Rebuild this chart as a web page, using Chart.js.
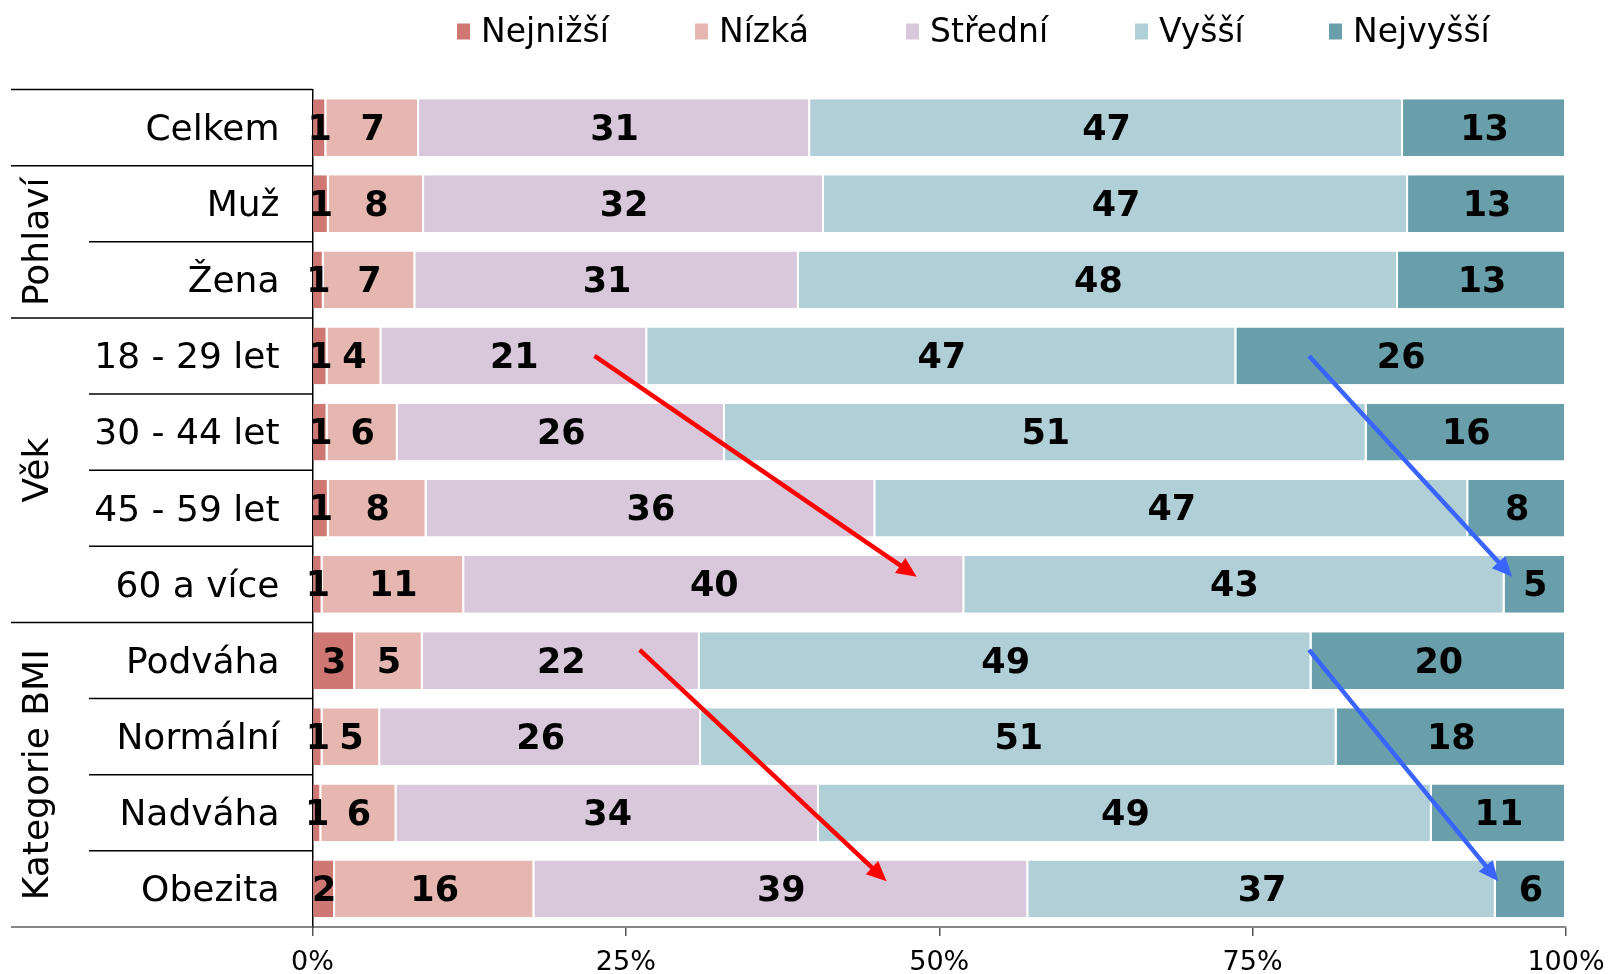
<!DOCTYPE html>
<html>
<head>
<meta charset="utf-8">
<script src="https://cdn.jsdelivr.net/npm/chart.js@4/dist/chart.umd.min.js"></script>
<style>
  html, body { margin: 0; padding: 0; background: #fff; }
  #wrap { width: 1608px; height: 974px; }
</style>
</head>
<body>
<div id="wrap"><canvas id="graf" width="1608" height="974"></canvas></div>
<script>
const kategorie = ["Celkem", "Muž", "Žena", "18 - 29 let", "30 - 44 let", "45 - 59 let", "60 a více", "Podváha", "Normální", "Nadváha", "Obezita"];
const nejnizsi = [1.1, 1.3, 0.9, 1.2, 1.2, 1.3, 0.8, 3.4, 0.8, 0.7, 1.8];
const nizka    = [7.4, 7.6, 7.3, 4.3, 5.6, 7.8, 11.3, 5.4, 4.6, 6.0, 15.9];
const stredni  = [31.2, 31.9, 30.6, 21.2, 26.1, 35.8, 39.9, 22.1, 25.6, 33.7, 39.4];
const vyssi    = [47.3, 46.6, 47.8, 47.0, 51.2, 47.3, 43.1, 48.8, 50.7, 48.9, 37.3];
const nejvyssi = [13.0, 12.6, 13.4, 26.3, 15.9, 7.8, 4.9, 20.3, 18.3, 10.7, 5.6];
const xTicks = [0, 25, 50, 75, 100];

const skupiny = ["Pohlaví", "Věk", "Kategorie BMI"];
const skupinyOd = [1, 3, 7];
const skupinyDo = [2, 6, 10];

// sipky v jednotkach grafu: [x1 %, y1 radek, x2 %, y2 radek]
const sipkyCervene = [[22.5, 3, 48.2, 5.9], [26.1, 6.86, 45.8, 9.9]];
const sipkyModre = [[79.5, 3, 95.7, 5.9], [79.5, 6.86, 94.6, 9.9]];

Chart.defaults.font.family = "'DejaVu Sans', Verdana, sans-serif";
Chart.defaults.color = '#000';

function sipka(ctx, x1, y1, x2, y2, barva) {
    const uhel = Math.atan2(y2 - y1, x2 - x1);
    const delka = 20, sirka = 9;
    ctx.save();
    ctx.strokeStyle = barva;
    ctx.fillStyle = barva;
    ctx.lineWidth = 4.5;
    ctx.beginPath();
    ctx.moveTo(x1, y1);
    ctx.lineTo(x2 - Math.cos(uhel) * delka * 0.8, y2 - Math.sin(uhel) * delka * 0.8);
    ctx.stroke();
    ctx.beginPath();
    ctx.moveTo(x2, y2);
    ctx.lineTo(x2 - Math.cos(uhel) * delka - Math.sin(uhel) * sirka, y2 - Math.sin(uhel) * delka + Math.cos(uhel) * sirka);
    ctx.lineTo(x2 - Math.cos(uhel) * delka + Math.sin(uhel) * sirka, y2 - Math.sin(uhel) * delka - Math.cos(uhel) * sirka);
    ctx.closePath();
    ctx.fill();
    ctx.restore();
}

const popisky = {
    id: 'popisky',
    afterDatasetsDraw(chart) {
        const ctx = chart.ctx;
        ctx.save();
        ctx.font = 'bold 35px "DejaVu Sans"';
        ctx.fillStyle = '#000';
        ctx.textAlign = 'center';
        ctx.textBaseline = 'middle';
        chart.data.datasets.forEach((ds, i) => {
            chart.getDatasetMeta(i).data.forEach((bar, j) => {
                const p = bar.getCenterPoint();
                ctx.fillText(Math.round(ds.data[j]), p.x, p.y + 3);
            });
        });
        ctx.restore();

        const sx = chart.scales.x, sy = chart.scales.y;
        sipkyCervene.forEach(s => sipka(ctx, sx.getPixelForValue(s[0]), sy.getPixelForValue(s[1]), sx.getPixelForValue(s[2]), sy.getPixelForValue(s[3]), '#ff0000'));
        sipkyModre.forEach(s => sipka(ctx, sx.getPixelForValue(s[0]), sy.getPixelForValue(s[1]), sx.getPixelForValue(s[2]), sy.getPixelForValue(s[3]), '#3a64ff'));
    }
};

const tabulka = {
    id: 'tabulka',
    afterDraw(chart) {
        const ctx = chart.ctx;
        const sy = chart.scales.y;
        const left = chart.chartArea.left;
        const krok = sy.getPixelForValue(1) - sy.getPixelForValue(0);
        const hrana = i => sy.getPixelForValue(i) + krok / 2;
        ctx.save();
        // vodorovne cary tabulky
        const cela = [-1, 0, 2, 6];
        const vnitrni = [1, 3, 4, 5, 7, 8, 9];
        ctx.strokeStyle = '#000';
        ctx.lineWidth = 1.5;
        cela.forEach(i => {
            ctx.beginPath(); ctx.moveTo(11, hrana(i)); ctx.lineTo(left, hrana(i)); ctx.stroke();
        });
        vnitrni.forEach(i => {
            ctx.beginPath(); ctx.moveTo(89, hrana(i)); ctx.lineTo(left, hrana(i)); ctx.stroke();
        });
        ctx.strokeStyle = '#888';
        ctx.lineWidth = 2;
        ctx.beginPath(); ctx.moveTo(11, hrana(10)); ctx.lineTo(left, hrana(10)); ctx.stroke();

        // skupiny
        ctx.fillStyle = '#000';
        ctx.font = '36px "DejaVu Sans"';
        ctx.textAlign = 'center';
        ctx.textBaseline = 'middle';
        skupiny.forEach((s, k) => {
            const yc = (sy.getPixelForValue(skupinyOd[k]) + sy.getPixelForValue(skupinyDo[k])) / 2;
            ctx.save();
            ctx.translate(39, yc);
            ctx.rotate(-Math.PI / 2);
            ctx.fillText(s, 0, 0);
            ctx.restore();
        });

        // legenda
        const legendaX = [457, 695, 906, 1135, 1329];
        ctx.font = '33px "DejaVu Sans"';
        ctx.textAlign = 'left';
        chart.data.datasets.forEach((ds, i) => {
            const x = legendaX[i];
            ctx.fillStyle = ds.backgroundColor;
            ctx.fillRect(x, 23.5, 13, 16);
            ctx.fillStyle = '#000';
            ctx.fillText(ds.label, x + 24, 33);
        });
        ctx.restore();
    }
};

const sloupec = barva => ({
    backgroundColor: barva,
    borderColor: '#ffffff',
    borderWidth: { top: 0, right: 2, bottom: 0, left: 0 },
    borderSkipped: false,
    barPercentage: 0.745,
    categoryPercentage: 1.0
});

new Chart(document.getElementById('graf'), {
    type: 'bar',
    data: {
        labels: kategorie,
        datasets: [
            Object.assign({ label: 'Nejnižší', data: nejnizsi }, sloupec('#cf7772')),
            Object.assign({ label: 'Nízká', data: nizka }, sloupec('#e6b7b0')),
            Object.assign({ label: 'Střední', data: stredni }, sloupec('#d9c8db')),
            Object.assign({ label: 'Vyšší', data: vyssi }, sloupec('#b1cfd6')),
            Object.assign({ label: 'Nejvyšší', data: nejvyssi }, sloupec('#689faa'))
        ]
    },
    options: {
        indexAxis: 'y',
        responsive: false,
        animation: false,
        layout: { padding: { top: 89.5, right: 42, bottom: 0, left: 0 } },
        plugins: {
            legend: { display: false },
            tooltip: { enabled: false }
        },
        scales: {
            x: {
                stacked: true,
                min: 0,
                max: 100,
                afterBuildTicks: s => { s.ticks = xTicks.map(v => ({ value: v })); },
                afterFit: s => { s.height = 47; s.paddingLeft = 0; s.paddingRight = 0; },
                ticks: {
                    font: { size: 27 },
                    color: '#000',
                    padding: 11,
                    maxRotation: 0,
                    callback: v => v + '%'
                },
                grid: { drawOnChartArea: false, drawTicks: true, tickLength: 9, color: '#555', lineWidth: 1.5 },
                border: { display: true, color: '#888', width: 2 }
            },
            y: {
                stacked: true,
                afterFit: s => { s.width = 312.5; s.paddingTop = 0; s.paddingBottom = 0; },
                ticks: {
                    font: { size: 36 },
                    color: '#000',
                    padding: 33,
                    labelOffset: 3
                },
                grid: { display: false, drawTicks: false },
                border: { display: true, color: '#000', width: 1.5 }
            }
        }
    },
    plugins: [popisky, tabulka]
});
</script>
</body>
</html>
